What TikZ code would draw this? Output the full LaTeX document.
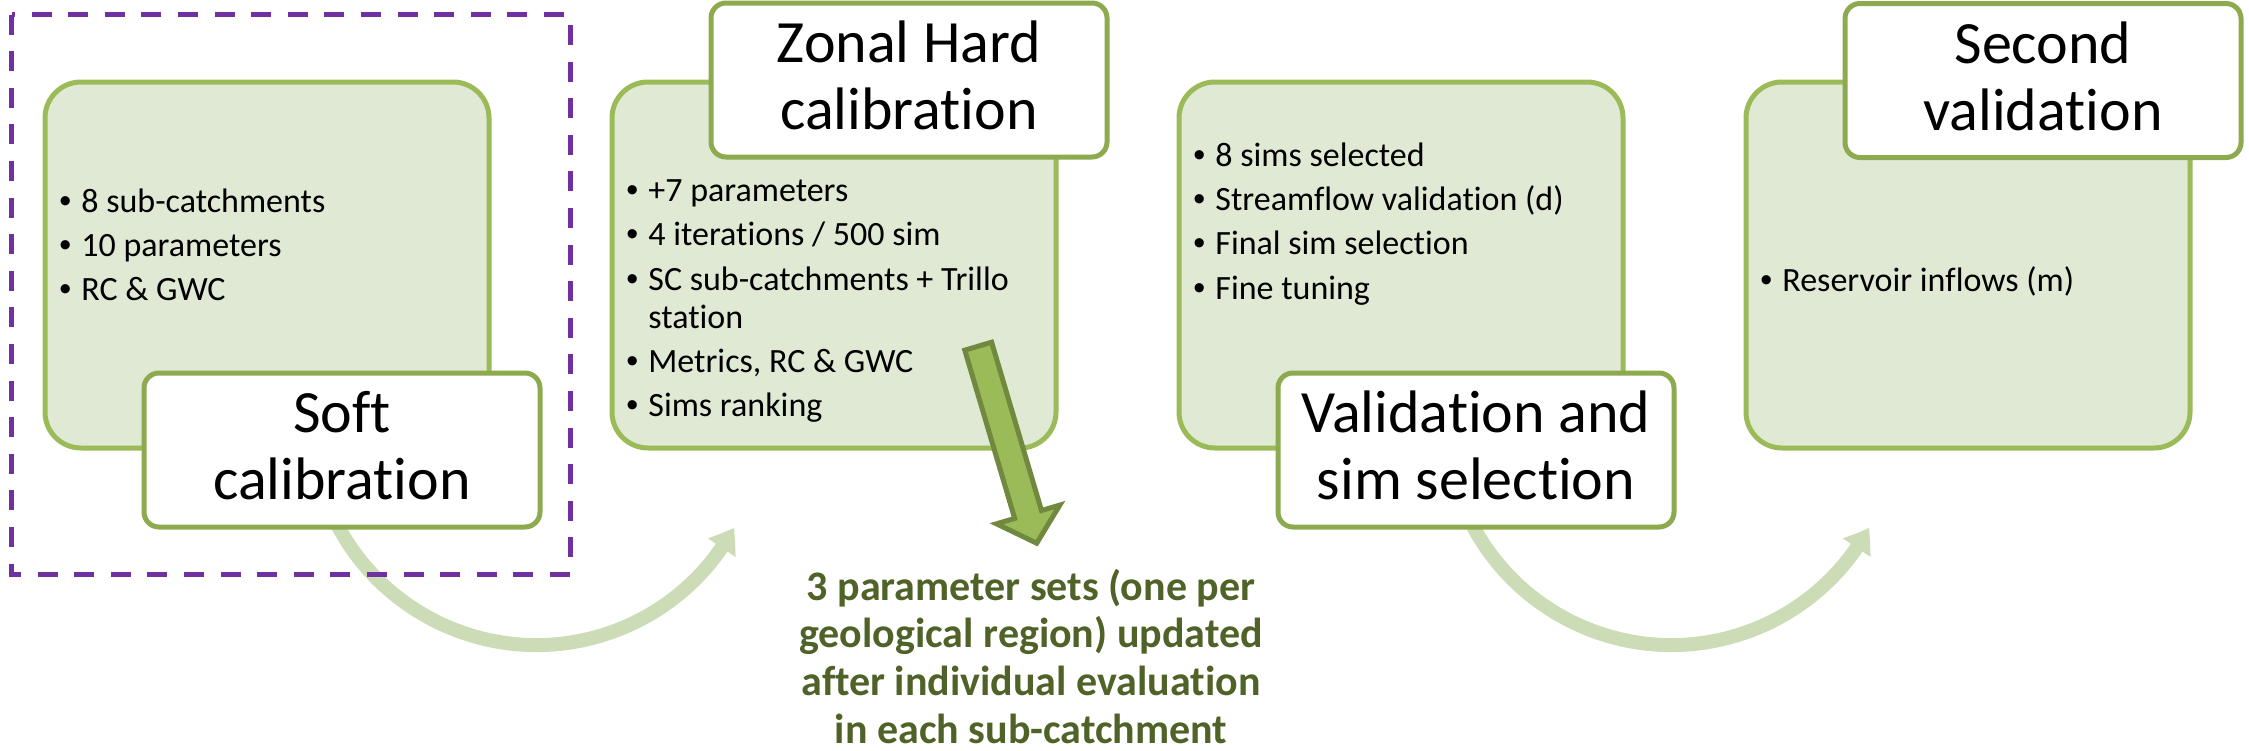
\documentclass[tikz,border=0pt]{standalone}
\usepackage{fontspec}
\setmainfont{Carlito}[Ligatures={NoCommon}]
\newfontfamily\bulletfont{Liberation Sans}
\usetikzlibrary{arrows.meta,bending}

\definecolor{panelfill}{HTML}{E0E9D3}
\definecolor{paneledge}{HTML}{9BBB59}
\definecolor{titleedge}{HTML}{8DAA4F}
\definecolor{flowgreen}{HTML}{CCDCB6}
\definecolor{groupviolet}{HTML}{7030A0}
\definecolor{notegreen}{HTML}{4F6228}
\definecolor{blockfill}{HTML}{9BBB59}
\definecolor{blockedge}{HTML}{71893F}

% one bulleted line, and the continuation of a wrapped bullet
\newcommand\bpt[1]{\hbox{\makebox[0pt]{\bulletfont\char"2022}\hspace{8pt}#1}}
\newcommand\bcont[1]{\hbox{\hspace{8pt}#1}}
% extra depth so the two title lines sit centred on their caps
\newcommand\tdepth{\rule[-4.8pt]{0pt}{4.8pt}}

\begin{document}
\begin{tikzpicture}[x=0.5pt, y=-0.5pt,
  panel/.style={draw=paneledge, fill=panelfill, line width=2.5pt,
    rounded corners=18pt, minimum width=222pt, minimum height=183pt, inner sep=0pt},
  stagetitle/.style={draw=titleedge, fill=white, line width=2.5pt,
    rounded corners=7.5pt, minimum width=198pt, minimum height=77pt, inner sep=0pt,
    align=center, font=\fontsize{30pt}{33.5pt}\selectfont},
  items/.style={anchor=base west, inner sep=0pt,
    font=\fontsize{17pt}{22.1pt}\selectfont},
  note/.style={anchor=base, inner sep=0pt, text=notegreen,
    font=\fontsize{21pt}{23.85pt}\selectfont\bfseries},
  flow/.style={draw=flowgreen, line width=7pt,
    -{Triangle[length=11.7pt, width=15.8pt, bend]}},
  blockarrow/.style={draw=blockedge, fill=blockfill, line width=2.5pt, line join=miter},
  groupframe/.style={draw=groupviolet, line width=2.5pt,
    dash pattern=on 10pt off 8.3pt}
]
\useasboundingbox (0,0) rectangle (2249,750);

% curved flow arrows between the stages
\coordinate (arcA) at (325,497);
\coordinate (arcB) at (1460,497);
\draw[flow] (arcA) arc[start angle=160, end angle=28.6, radius=225];
\draw[flow] (arcB) arc[start angle=160, end angle=28.6, radius=225];

% stage panels
\node[panel] (p1) at (267,265) {};
\node[panel] (p2) at (834,265) {};
\node[panel] (p3) at (1401,265) {};
\node[panel] (p4) at (1968,265) {};

% panel contents
\node[items] (l1) at (65,212) {\vtop{%
  \bpt{8 sub-catchments}\bpt{10 parameters}\bpt{RC \& GWC}}};
\node[items] (l2) at (632,201.7) {\vtop{%
  \bpt{+7 parameters}\bpt{4 iterations / 500 sim}%
  \bpt{SC sub-catchments + Trillo}\vskip-3.1pt\bcont{station}%
  \bpt{Metrics, RC \& GWC}\bpt{Sims ranking}}};
\node[items] (l3) at (1199,166.5) {\vtop{%
  \bpt{8 sims selected}\bpt{Streamflow validation (d)}%
  \bpt{Final sim selection}\bpt{Fine tuning}}};
\node[items] (l4) at (1766,291) {\vtop{\bpt{Reservoir inflows (m)}}};

% block arrow from the hard calibration panel to its note
\draw[blockarrow] (964.8,350.2) -- (991.6,342.2) -- (1041.5,510.5)
  -- (1059.8,505.1) -- (1036.7,543.2) -- (996.5,523.8) -- (1014.7,518.4) -- cycle;

% stage titles
\node[stagetitle] (t1) at (342,450) {Soft\\calibration\tdepth};
\node[stagetitle] (t2) at (909,80) {Zonal Hard\\calibration\tdepth};
\node[stagetitle] (t3) at (1476,450) {Validation and\\sim selection\tdepth};
\node[stagetitle] (t4) at (2043,80.5) {Second\\validation\tdepth};

% note under the block arrow
\node[note] (n1) at (1031,600) {\vtop{\halign{\hfil#\hfil\cr
  3 parameter sets (one per\cr
  geological region) updated\cr
  after individual evaluation\cr
  in each sub-catchment\cr}}};

% dashed frame round the first stage
\draw[groupframe] (11.5,14.5) rectangle (570,574);
\end{tikzpicture}
\end{document}
